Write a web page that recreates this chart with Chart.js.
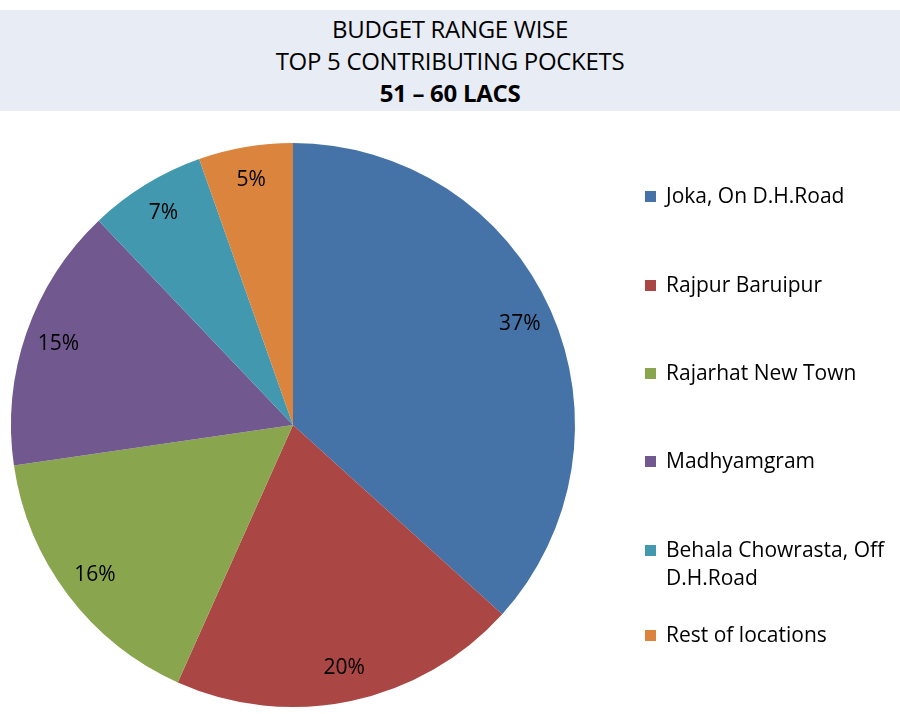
<!DOCTYPE html>
<html>
<head>
<meta charset="utf-8">
<script src="https://cdn.jsdelivr.net/npm/chart.js@4"></script>
<style>
  body { margin: 0; background: #fff; width: 900px; height: 714px; position: relative; overflow: hidden; }
  #title {
    position: absolute; left: 0; top: 10px; width: 900px; height: 101px;
    background: #e8ecf4; text-align: center;
    font-family: "Open Sans", sans-serif; font-size: 24px; line-height: 32px;
    color: #000; padding-top: 3px; box-sizing: border-box; letter-spacing: -0.3px;
  }
  #title b { font-weight: 700; }
  #wrap { position: absolute; left: 0; top: 0; width: 900px; height: 714px; }
</style>
</head>
<body>
<div id="title">BUDGET RANGE WISE<br>TOP 5 CONTRIBUTING POCKETS<br><b>51 – 60 LACS</b></div>
<div id="wrap"><canvas id="pieChart"></canvas></div>
<script>
const labels = [
  ["Joka, On D.H.Road"],
  ["Rajpur Baruipur"],
  ["Rajarhat New Town"],
  ["Madhyamgram"],
  ["Behala Chowrasta, Off", "D.H.Road"],
  ["Rest of locations"],
];
const shares = [36.7, 20.0, 16.0, 15.2, 6.7, 5.4];
const shownPct = ["37%", "20%", "16%", "15%", "7%", "5%"];
const colors = ["#4572a7", "#aa4643", "#89a54e", "#71588f", "#4198af", "#db843d"];

// legend rows: y of first text line
const legendY = [197, 286, 374, 462, 551, 636];

const pieLabels = {
  id: "pieLabels",
  afterDatasetsDraw(chart) {
    const c = chart.ctx;
    const meta = chart.getDatasetMeta(0);
    c.save();
    c.font = '21px "Open Sans", sans-serif';
    c.fillStyle = "#000";
    c.textAlign = "center";
    c.textBaseline = "middle";
    meta.data.forEach((arc, i) => {
      const mid = (arc.startAngle + arc.endAngle) / 2;
      const r = arc.outerRadius * 0.88;
      c.fillText(shownPct[i], arc.x + Math.cos(mid) * r, arc.y + Math.sin(mid) * r);
    });
    // legend
    c.textAlign = "left";
    labels.forEach((lab, i) => {
      c.fillStyle = colors[i];
      c.fillRect(645, legendY[i] - 6, 11, 11);
      c.fillStyle = "#000";
      lab.forEach((line, j) => {
        c.fillText(line, 666, legendY[i] + j * 28);
      });
    });
    c.restore();
  },
};

new Chart(document.getElementById("pieChart"), {
  type: "pie",
  data: {
    labels: labels,
    datasets: [
      {
        data: shares,
        backgroundColor: colors,
        borderWidth: 0,
      },
    ],
  },
  options: {
    responsive: true,
    maintainAspectRatio: false,
    animation: false,
    layout: { padding: { left: 11, right: 325, top: 143, bottom: 7 } },
    plugins: {
      legend: { display: false },
      tooltip: { enabled: false },
    },
  },
  plugins: [pieLabels],
});
</script>
</body>
</html>
